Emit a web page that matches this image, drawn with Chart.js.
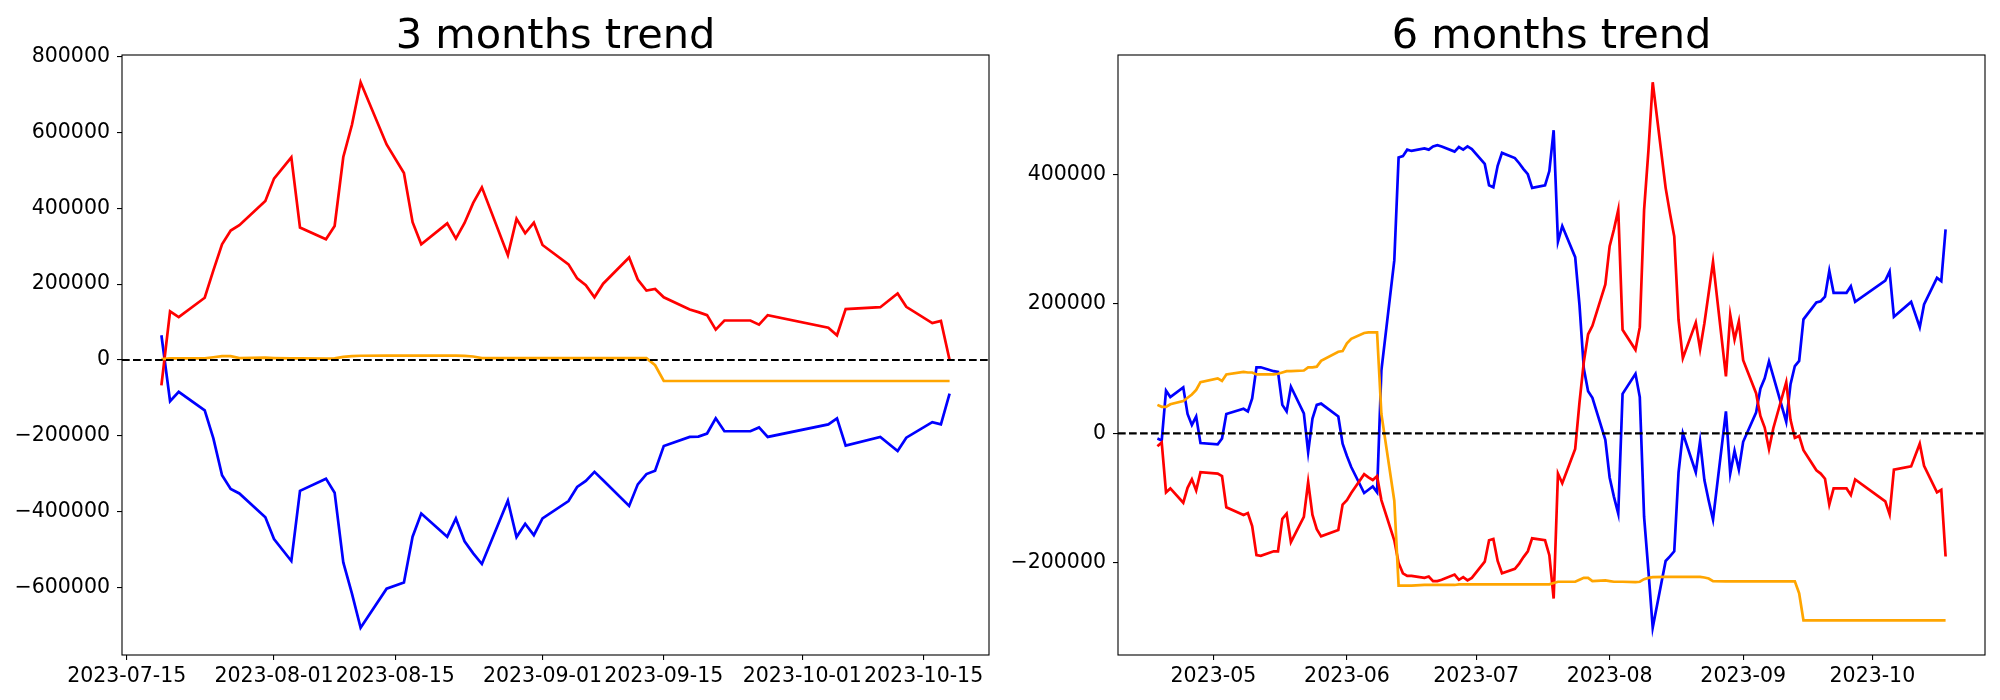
<!DOCTYPE html>
<html>
<head>
<meta charset="utf-8">
<script src="https://cdn.jsdelivr.net/npm/chart.js@4.4.0/dist/chart.umd.min.js"></script>
<style>
  body { margin: 0; background: #fff; }
  #wrap { position: relative; width: 2000px; height: 700px; }
  canvas { position: absolute; top: 0; }
</style>
</head>
<body>
<div id="wrap">
  <canvas id="chart3m" width="1000" height="700" style="left:0"></canvas>
  <canvas id="chart6m" width="1000" height="700" style="left:1000px"></canvas>
</div>
<script>
const year = '2023';

// 3 months trend
const dates3m = [
    '07-19', '07-20', '07-21', '07-24', '07-25', '07-26', '07-27', '07-28', '07-31',
    '08-01', '08-03', '08-04', '08-07', '08-08', '08-09', '08-10', '08-11', '08-14', '08-16',
    '08-17', '08-18', '08-21', '08-22', '08-23', '08-24', '08-25', '08-28', '08-29', '08-30', '08-31',
    '09-01', '09-04', '09-05', '09-06', '09-07', '09-08', '09-11', '09-12', '09-13', '09-14', '09-15',
    '09-18', '09-19', '09-20', '09-21', '09-22', '09-25', '09-26', '09-27',
    '10-04', '10-05', '10-06', '10-10', '10-12', '10-13', '10-16', '10-17', '10-18'
];
const red3m = [
    -67000, 128000, 113000, 164000, 236000, 305000, 341000, 355000, 419000,
    478000, 534000, 349000, 318000, 353000, 535000, 620000, 732000, 568000, 493000,
    363000, 305000, 360000, 320000, 361000, 414000, 455000, 276000, 372000, 334000, 362000,
    303000, 252000, 215000, 197000, 165000, 201000, 270000, 212000, 183000, 187000, 165000,
    133000, 126000, 118000, 80000, 104000, 104000, 93000, 118000,
    85000, 65000, 134000, 139000, 175000, 140000, 97000, 103000, 0
];
const blue3m = [
    65000, -109000, -84000, -133000, -207000, -304000, -340000, -352000, -415000,
    -472000, -530000, -345000, -313000, -350000, -534000, -616000, -706000, -603000, -587000,
    -466000, -405000, -466000, -418000, -478000, -510000, -538000, -371000, -467000, -432000, -462000,
    -418000, -372000, -335000, -319000, -295000, -317000, -385000, -328000, -301000, -292000, -227000,
    -203000, -202000, -194000, -154000, -188000, -188000, -178000, -203000,
    -170000, -154000, -226000, -203000, -240000, -205000, -164000, -170000, -89000
];
const orange3m = [
    2000, 4000, 4000, 4000, 7000, 10000, 10000, 5000, 6000,
    5000, 4000, 4000, 3500, 4000, 8000, 10000, 11000, 11500, 11500,
    11500, 11500, 11500, 11500, 10500, 9000, 5000, 4500, 4500, 4500, 4500,
    4500, 4500, 4500, 4500, 4500, 4500, 4500, 4500, 4500, -14000, -55500,
    -55500, -55500, -55500, -55500, -55500, -55500, -55500, -55500,
    -55500, -55500, -55500, -55500, -55500, -55500, -55500, -55500, -55500
];

// 6 months trend
const dates6m = [
    '04-18', '04-19', '04-20', '04-21', '04-24', '04-25', '04-26', '04-27', '04-28',
    '05-02', '05-03', '05-04', '05-08', '05-09', '05-10', '05-11', '05-12', '05-15', '05-16',
    '05-17', '05-18', '05-19', '05-22', '05-23', '05-24', '05-25', '05-26', '05-30', '05-31',
    '06-01', '06-02', '06-05', '06-06', '06-07', '06-08', '06-09', '06-12', '06-13', '06-14', '06-15',
    '06-16', '06-19', '06-20', '06-21', '06-22', '06-23', '06-26', '06-27', '06-28', '06-29', '06-30',
    '07-03', '07-04', '07-05', '07-06', '07-07', '07-10', '07-11', '07-12', '07-13', '07-14',
    '07-17', '07-18', '07-19', '07-20', '07-21', '07-24', '07-25', '07-26', '07-27', '07-28', '07-31',
    '08-01', '08-02', '08-03', '08-04', '08-07', '08-08', '08-09', '08-10', '08-11', '08-14', '08-15',
    '08-16', '08-17', '08-18', '08-21', '08-22', '08-23', '08-24', '08-25', '08-28', '08-29', '08-30', '08-31',
    '09-01', '09-04', '09-05', '09-06', '09-07', '09-08', '09-11', '09-12', '09-13', '09-14',
    '09-15', '09-18', '09-19', '09-20', '09-21', '09-22', '09-25', '09-26', '09-27',
    '10-04', '10-05', '10-06', '10-10', '10-12', '10-13', '10-16', '10-17', '10-18'
];
const red6m = [
    -20000, -14000, -91000, -85000, -107000, -84000, -71000, -88000, -60000,
    -62000, -66000, -114000, -126000, -123000, -143000, -188000, -189000, -182000, -182000,
    -132000, -124000, -168000, -129000, -75000, -126000, -148000, -159000, -149000, -110000,
    -103000, -92000, -63000, -68000, -72000, -66000, -103000, -165000, -200000, -216000, -220000,
    -220000, -223000, -221000, -228000, -228000, -226000, -218000, -226000, -222000, -227000, -223000,
    -198000, -165000, -163000, -197000, -216000, -209000, -201000, -191000, -182000, -162000,
    -165000, -188000, -255000, -62000, -77000, -24000, 48000, 110000, 153000, 166000, 230000,
    289000, 315000, 345000, 160000, 129000, 164000, 345000, 436000, 542000, 379000, 340000,
    304000, 175000, 116000, 171000, 130000, 170000, 217000, 265000, 88000, 183000, 145000, 173000,
    113000, 62000, 27000, 9000, -24000, 8000, 79000, 21000, -7000, -4000,
    -26000, -57000, -62000, -70000, -110000, -85000, -85000, -95000, -71000,
    -105000, -125000, -56000, -51000, -16000, -50000, -91000, -87000, -190000
];
const blue6m = [
    -8000, -11000, 66000, 56000, 71000, 30000, 13000, 26000, -15000,
    -17000, -8000, 30000, 38000, 34000, 54000, 102000, 102000, 96000, 95000,
    44000, 34000, 72000, 31000, -29000, 23000, 44000, 46000, 26000, -16000,
    -35000, -52000, -92000, -87000, -82000, -91000, 97000, 267000, 426000, 428000, 438000,
    436000, 440000, 438000, 443000, 445000, 443000, 435000, 442000, 438000, 443000, 439000,
    416000, 383000, 380000, 413000, 433000, 425000, 417000, 408000, 400000, 379000,
    383000, 405000, 468000, 296000, 320000, 272000, 198000, 100000, 65000, 55000, -10000,
    -68000, -98000, -124000, 61000, 92000, 56000, -129000, -212000, -300000, -197000, -190000,
    -182000, -60000, 0, -60000, -12000, -72000, -104000, -133000, 34000, -62000, -27000, -56000,
    -13000, 32000, 69000, 85000, 111000, 88000, 18000, 76000, 104000, 112000,
    176000, 202000, 204000, 211000, 251000, 217000, 217000, 227000, 203000,
    236000, 250000, 180000, 203000, 164000, 199000, 240000, 235000, 315000
];
const orange6m = [
    44000, 41000, 41000, 45000, 50000, 55000, 60000, 67000, 79000,
    85000, 81000, 91000, 95000, 94000, 94000, 91000, 91000, 91000, 92000,
    94000, 96000, 96000, 97000, 102000, 102000, 103000, 112000, 126000, 127000,
    139000, 146000, 155000, 156000, 156000, 156000, 30000, -104000, -235000, -235000, -235000,
    -235000, -234000, -234000, -234000, -234000, -234000, -234000, -233000, -233000, -233000, -233000,
    -233000, -233000, -233000, -233000, -233000, -233000, -233000, -233000, -233000, -233000,
    -233000, -233000, -231000, -229000, -229000, -229000, -226000, -223000, -223000, -228000, -227000,
    -228000, -229000, -229000, -229000, -229500, -229000, -225000, -223000, -222000, -221500, -221500,
    -221500, -221500, -221500, -221500, -221500, -222500, -224000, -228000, -228500, -228500, -228500, -228500,
    -228500, -228500, -228500, -228500, -228500, -228500, -228500, -228500, -228500, -247000,
    -288500, -288500, -288500, -288500, -288500, -288500, -288500, -288500, -288500,
    -288500, -288500, -288500, -288500, -288500, -288500, -288500, -288500, -288500
];

// tick labels
const xTicks3m = ['2023-07-15', '2023-08-01', '2023-08-15', '2023-09-01', '2023-09-15', '2023-10-01', '2023-10-15'];
const xTicks6m = ['2023-05', '2023-06', '2023-07', '2023-08', '2023-09', '2023-10'];
const yTicks3m = [-600000, -400000, -200000, 0, 200000, 400000, 600000, 800000];
const yTicks6m = [-200000, 0, 200000, 400000];

Chart.defaults.font.family = "'DejaVu Sans', sans-serif";
Chart.defaults.color = '#000';

function toPoints(dates, values) {
    return dates.map((d, i) => ({ x: Date.parse(year + '-' + d), y: values[i] }));
}

// matplotlib style 5% margins
function padded(values) {
    let lo = Math.min(...values), hi = Math.max(...values);
    let m = (hi - lo) * 0.05;
    return [lo - m, hi + m];
}

function fmtY(v) {
    return v < 0 ? '\u2212' + Math.abs(v) : String(v);
}

// dashed zero line, box around the plot, and the title centred over the plot
const framePlugin = {
    id: 'frame',
    afterDatasetsDraw(chart) {
        const { ctx, chartArea: a } = chart;
        const y0 = chart.scales.y.getPixelForValue(0);
        ctx.save();
        ctx.strokeStyle = '#000';
        ctx.lineWidth = 2.1;
        ctx.setLineDash([7.7, 3.3]);
        ctx.beginPath();
        ctx.moveTo(a.left, y0);
        ctx.lineTo(a.right, y0);
        ctx.stroke();
        ctx.setLineDash([]);
        ctx.lineWidth = 1.1;
        ctx.strokeRect(a.left, a.top, a.right - a.left, a.bottom - a.top);

        ctx.fillStyle = '#000';
        ctx.font = "41.5px 'DejaVu Sans', sans-serif";
        ctx.textAlign = 'center';
        ctx.textBaseline = 'alphabetic';
        ctx.fillText(chart.options.plugins.frame.title, (a.left + a.right) / 2, 47.5);
        ctx.restore();
    }
};

function makeChart(id, title, dates, red, blue, orange, xTicks, xLabel, yTicks, yWidth, padRight) {
    const xs = dates.map(d => Date.parse(year + '-' + d));
    const xRange = padded(xs);
    const yRange = padded(red.concat(blue, orange));
    const line = (data, color) => ({
        data: toPoints(dates, data),
        borderColor: color,
        borderWidth: 2.7,
        pointRadius: 0,
        tension: 0,
        fill: false
    });
    return new Chart(id, {
        type: 'line',
        data: {
            datasets: [line(orange, '#ffa500'), line(red, '#ff0000'), line(blue, '#0000ff')]
        },
        options: {
            responsive: false,
            devicePixelRatio: 1,
            animation: false,
            layout: { padding: { left: 0, right: padRight, top: 55, bottom: 0 } },
            scales: {
                x: {
                    type: 'linear',
                    min: xRange[0],
                    max: xRange[1],
                    border: { display: false },
                    grid: { drawOnChartArea: false, drawTicks: true, tickLength: 5, color: '#000', lineWidth: 1.1 },
                    ticks: {
                        autoSkip: false, maxRotation: 0, minRotation: 0, padding: 4,
                        font: { size: 20.5 },
                        callback: v => xLabel(v)
                    },
                    afterBuildTicks: axis => {
                        axis.ticks = xTicks.map(t => ({ value: Date.parse(t.length == 7 ? t + '-01' : t) }));
                    },
                    afterFit: axis => { axis.height = 45; }
                },
                y: {
                    min: yRange[0],
                    max: yRange[1],
                    border: { display: false },
                    grid: { drawOnChartArea: false, drawTicks: true, tickLength: 5, color: '#000', lineWidth: 1.1 },
                    ticks: { padding: 7, font: { size: 20.5 }, callback: v => fmtY(v) },
                    afterBuildTicks: axis => {
                        axis.ticks = yTicks.map(v => ({ value: v }));
                    },
                    afterFit: axis => { axis.width = yWidth; }
                }
            },
            plugins: {
                legend: { display: false },
                tooltip: { enabled: false },
                title: { display: false },
                frame: { title: title }
            }
        },
        plugins: [framePlugin]
    });
}

makeChart('chart3m', '3 months trend', dates3m, red3m, blue3m, orange3m,
    xTicks3m, v => new Date(v).toISOString().slice(0, 10), yTicks3m, 122, 11);
makeChart('chart6m', '6 months trend', dates6m, red6m, blue6m, orange6m,
    xTicks6m, v => new Date(v).toISOString().slice(0, 7), yTicks6m, 118, 15);
</script>
</body>
</html>
